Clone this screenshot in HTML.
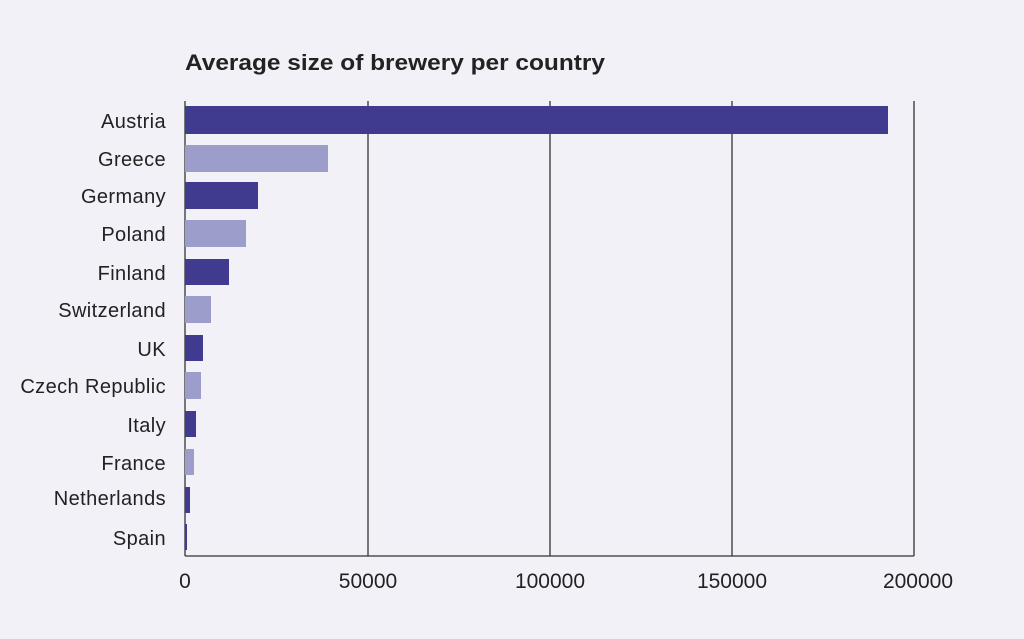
<!DOCTYPE html>
<html><head><meta charset="utf-8"><style>
html,body{margin:0;padding:0;background:#f2f1f7;}
svg{display:block;font-family:"Liberation Sans",sans-serif;}
</style></head><body>
<svg width="1024" height="639" viewBox="0 0 1024 639">
<rect width="1024" height="639" fill="#f2f1f7"/>
<text x="185" y="70" font-size="22" font-weight="bold" fill="#222" textLength="420" lengthAdjust="spacingAndGlyphs">Average size of brewery per country</text>
<g stroke="#333" stroke-width="1.3">
<line x1="185" y1="101" x2="185" y2="556"/>
<line x1="368" y1="101" x2="368" y2="556"/>
<line x1="550" y1="101" x2="550" y2="556"/>
<line x1="732" y1="101" x2="732" y2="556"/>
<line x1="914" y1="101" x2="914" y2="556"/>
<line x1="185" y1="556" x2="914" y2="556"/>
</g>
<g>
<rect x="185" y="106" width="703" height="28" fill="#413b8f"/>
<rect x="185" y="145" width="143" height="27" fill="#9d9dcb"/>
<rect x="185" y="182" width="73" height="27" fill="#413b8f"/>
<rect x="185" y="220" width="61" height="27" fill="#9d9dcb"/>
<rect x="185" y="259" width="44" height="26" fill="#413b8f"/>
<rect x="185" y="296" width="26" height="27" fill="#9d9dcb"/>
<rect x="185" y="335" width="18" height="26" fill="#413b8f"/>
<rect x="185" y="372" width="16" height="27" fill="#9d9dcb"/>
<rect x="185" y="411" width="11" height="26" fill="#413b8f"/>
<rect x="185" y="449" width="9" height="26" fill="#9d9dcb"/>
<rect x="185" y="487" width="5" height="26" fill="#413b8f"/>
<rect x="185" y="524" width="2" height="26" fill="#413b8f"/>
</g>
<g font-size="20" fill="#222" text-anchor="end" letter-spacing="0.4">
<text x="166" y="128">Austria</text>
<text x="166" y="166">Greece</text>
<text x="166" y="203">Germany</text>
<text x="166" y="241">Poland</text>
<text x="166" y="280">Finland</text>
<text x="166" y="317">Switzerland</text>
<text x="166" y="356">UK</text>
<text x="166" y="393">Czech Republic</text>
<text x="166" y="432">Italy</text>
<text x="166" y="470">France</text>
<text x="166" y="505">Netherlands</text>
<text x="166" y="545">Spain</text>
</g>
<g font-size="21" fill="#222" text-anchor="middle">
<text x="185" y="588">0</text>
<text x="368" y="588">50000</text>
<text x="550" y="588">100000</text>
<text x="732" y="588">150000</text>
<text x="918" y="588">200000</text>
</g>
</svg>
</body></html>
